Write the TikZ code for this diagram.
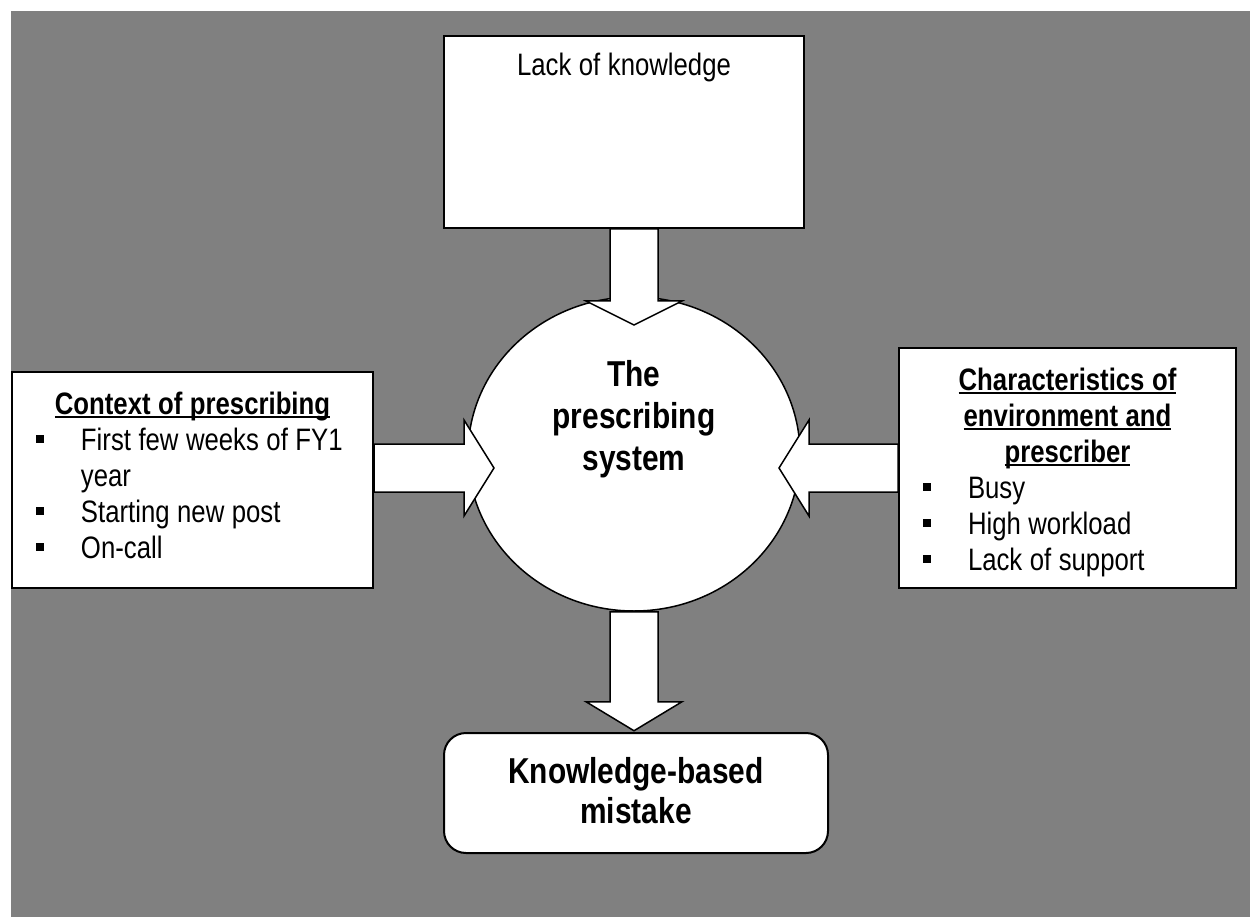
\documentclass[tikz,border=0pt]{standalone}
\usepackage{fontspec}
\setmainfont{Liberation Sans}[FakeStretch=0.83, WordSpace=1.05]
\usetikzlibrary{shapes.geometric,calc}
\setlength{\parindent}{0pt}

\definecolor{panelgray}{HTML}{808080}

% underlined heading with the rule crossing the descenders, centred in a row of width #1
\newsavebox\headbox
\newcommand\headline[2]{\sbox\headbox{\bfseries #2}%
  \makebox[#1][c]{\rlap{\usebox\headbox}\rule[-4pt]{\wd\headbox}{2pt}}}
% square bullet followed by its text, in a row of width #1
\newcommand\bulletline[2]{\makebox[#1][l]{\hspace*{24pt}\makebox[45pt][l]{\rule[7pt]{8pt}{8pt}}#2}}
\newcommand\txtbody{\fontsize{31}{36}\selectfont}
\newcommand\txtbig{\bfseries\fontsize{36}{40}\selectfont}

\begin{document}
\begin{tikzpicture}[x=1pt,y=-1pt,
  box/.style={draw=black, line width=2pt, fill=white, inner sep=0pt},
  listbox/.style={box, anchor=north west, align=left, font=\txtbody},
  blockarrow/.style={draw=black, line width=1.5pt, fill=white, line join=miter}]

\useasboundingbox (0,0) rectangle (1250,917);
\fill[panelgray] (11,11) rectangle (1250,917);

% central system
\node[draw=black, line width=1.5pt, fill=white, ellipse, inner sep=0pt,
      minimum width=332pt, minimum height=314pt] (system) at (634,454) {};
\node[font=\bfseries\fontsize{36}{42}\selectfont, align=center] (systemtext) at (634,419) {The\\prescribing\\system};

% top box
\node[box, anchor=north west, minimum width=360pt, minimum height=192pt] (knowledge) at (443,35) {};
\node[anchor=base, font=\txtbody] (knowtext) at ($(knowledge.north)+(0,41)$) {Lack of knowledge};

% left box
\node[listbox, minimum width=361pt, minimum height=216pt] (context) at (11,371) {%
\headline{361pt}{Context of prescribing}\\
\bulletline{361pt}{First few weeks of FY1}\\
\makebox[361pt][l]{\hspace*{69pt}year}\\
\bulletline{361pt}{Starting new post}\\
\bulletline{361pt}{On-call}\rule[-10pt]{0pt}{10pt}};

% right box
\node[listbox, minimum width=337pt, minimum height=240pt] (environment) at (898,347) {%
\rule{0pt}{31pt}\headline{337pt}{Characteristics of}\\
\headline{337pt}{environment and}\\
\headline{337pt}{prescriber}\\
\bulletline{337pt}{Busy}\\
\bulletline{337pt}{High workload}\\
\bulletline{337pt}{Lack of support}};

% bottom outcome
\node[box, rounded corners=22pt, anchor=north west, minimum width=384pt, minimum height=120pt,
      font=\txtbig, align=center] (mistake) at (443,732) {Knowledge-based\\mistake\rule[-5pt]{0pt}{5pt}};

% block arrows into and out of the system
\draw[blockarrow] (knowledge.south -| system.center) ++(-24,0) -- ++(0,72) -- ++(-24,0)
  -- ++(48,24) -- ++(48,-24) -- ++(-24,0) -- ++(0,-72) -- cycle;
\draw[blockarrow] (system.south) ++(-24,0) -- ++(0,90) -- ++(-24,0)
  -- ++(48,29) -- ++(48,-29) -- ++(-24,0) -- ++(0,-90) -- cycle;
\draw[blockarrow] (context.east |- environment.west) ++(0,-24) -- ++(90,0) -- ++(0,-24)
  -- ++(30,48) -- ++(-30,48) -- ++(0,-24) -- ++(-90,0) -- cycle;
\draw[blockarrow] (environment.west) ++(0,-24) -- ++(-89,0) -- ++(0,-24)
  -- ++(-30,48) -- ++(30,48) -- ++(0,-24) -- ++(89,0) -- cycle;
\end{tikzpicture}
\end{document}
